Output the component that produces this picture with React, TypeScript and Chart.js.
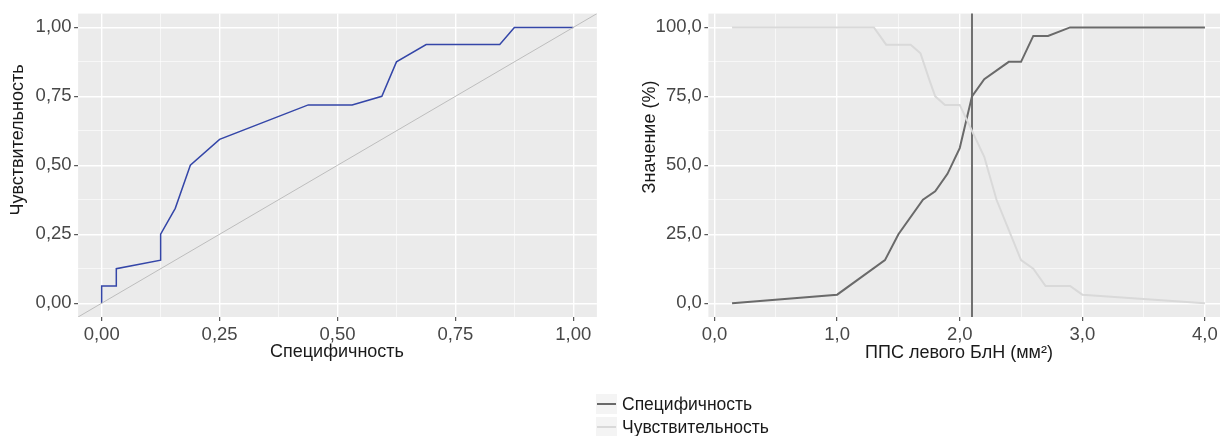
import React, { useEffect, useRef } from "react";
import { Chart, registerables } from "chart.js";

Chart.register(...registerables);

// ---------- data: ROC curve (left) ----------
const rocX = [0, 0, 0.031, 0.031, 0.125, 0.125, 0.156, 0.188, 0.25, 0.438, 0.531, 0.594, 0.625, 0.688, 0.844, 0.875, 1.0];
const rocY = [0, 0.0625, 0.0625, 0.125, 0.156, 0.25, 0.344, 0.5, 0.594, 0.719, 0.719, 0.75, 0.875, 0.938, 0.938, 1.0, 1.0];
const diagX = [-0.1, 1.1];
const rocMajorTicks = [0, 0.25, 0.5, 0.75, 1.0];
const rocMinorTicks = [0.125, 0.375, 0.625, 0.875];

// ---------- data: threshold plot (right) ----------
const specThresh = [0.143, 1.0, 1.39, 1.5, 1.7, 1.8, 1.9, 2.0, 2.1, 2.2, 2.4, 2.5, 2.6, 2.72, 2.9, 4.0];
const specValues = [0, 3.1, 15.6, 25.0, 37.5, 40.6, 46.9, 56.25, 75.0, 81.25, 87.5, 87.5, 96.9, 96.9, 100, 100];
const sensThresh = [0.143, 1.3, 1.4, 1.6, 1.68, 1.75, 1.8, 1.88, 2.0, 2.1, 2.2, 2.3, 2.5, 2.6, 2.7, 2.9, 3.0, 4.0];
const sensValues = [100, 100, 93.75, 93.75, 90.6, 81.25, 75.0, 71.9, 71.9, 62.5, 53.1, 37.5, 15.6, 12.5, 6.25, 6.25, 3.1, 0];
const cutoffX = [2.1, 2.1];
const cutoffY = [-10, 110];
const thrXMajor = [0, 1, 2, 3, 4];
const thrXMinor = [0.5, 1.5, 2.5, 3.5];
const thrYMajor = [0, 25, 50, 75, 100];
const thrYMinor = [12.5, 37.5, 62.5, 87.5];

const legendLabels = ["Специфичность", "Чувствительность"];

const FONT = "'Liberation Sans', Arial, Helvetica, sans-serif";
const TICK_FS = 18.5;
const TITLE_FS = 18;
const LEGEND_FS = 17.5;
const PANEL_BG = "#EBEBEB";
const SPEC_COLOR = "#6a6a6a";
const SENS_COLOR = "#d9d9d9";

const pts = (xs: number[], ys: number[]) => xs.map((x, i) => ({ x, y: ys[i] }));
const isIn = (arr: number[], v: any) => typeof v === "number" && arr.some((t) => Math.abs(t - v) < 1e-9);

function axis(o: {
  pos: "left" | "bottom";
  min: number;
  max: number;
  major: number[];
  minor: number[];
  digits: number;
  fit: number;
  pad: number;
}) {
  const all = [...o.major, ...o.minor].sort((a, b) => a - b);
  return {
    type: "linear",
    position: o.pos,
    min: o.min,
    max: o.max,
    afterBuildTicks: (s: any) => {
      s.ticks = all.map((v) => ({ value: v }));
    },
    afterFit: (s: any) => {
      if (o.pos === "left") s.width = o.fit;
      else s.height = o.fit;
    },
    ticks: {
      autoSkip: false,
      maxRotation: 0,
      minRotation: 0,
      padding: o.pad,
      color: "#474747",
      font: { family: FONT, size: TICK_FS },
      callback: (v: any) => (isIn(o.major, v) ? Number(v).toFixed(o.digits).replace(".", ",") : ""),
    },
    grid: {
      color: "#ffffff",
      lineWidth: (c: any) => (isIn(o.major, c.tick && c.tick.value) ? 1.4 : 0.6),
      tickColor: (c: any) => (isIn(o.major, c.tick && c.tick.value) ? "#333333" : "rgba(0,0,0,0)"),
      tickLength: 4,
      tickWidth: 1,
      drawTicks: true,
    },
    border: { display: false },
    title: { display: false },
  };
}

const panelBg = {
  id: "panelBg",
  beforeDraw(chart: any) {
    const { ctx, chartArea: a } = chart;
    ctx.save();
    ctx.fillStyle = PANEL_BG;
    ctx.fillRect(a.left, a.top, a.right - a.left, a.bottom - a.top);
    ctx.restore();
  },
};

const axisTitles = {
  id: "axisTitles",
  afterDraw(chart: any, _args: any, opts: any) {
    const ctx = chart.ctx;
    for (const t of opts.items || []) {
      ctx.save();
      ctx.translate(t.x, t.y);
      ctx.rotate(t.rot || 0);
      ctx.font = `${TITLE_FS}px ${FONT}`;
      ctx.fillStyle = "#1a1a1a";
      ctx.textAlign = "center";
      ctx.textBaseline = "middle";
      ctx.fillText(t.text, 0, 0);
      ctx.restore();
    }
  },
};

function useChart(ref: React.RefObject<HTMLCanvasElement>, make: () => any) {
  useEffect(() => {
    if (!ref.current) return;
    const chart = new Chart(ref.current, make());
    return () => chart.destroy();
  }, []);
}

export default function App() {
  const leftRef = useRef<HTMLCanvasElement>(null);
  const rightRef = useRef<HTMLCanvasElement>(null);

  useChart(leftRef, () => ({
    type: "line",
    data: {
      datasets: [
        {
          data: pts(diagX, diagX),
          borderColor: "#bdbdbd",
          borderWidth: 1,
          pointRadius: 0,
          clip: 0,
        },
        {
          data: pts(rocX, rocY),
          borderColor: "#3446a8",
          borderWidth: 1.5,
          pointRadius: 0,
          tension: 0,
          clip: 0,
        },
      ],
    },
    options: {
      responsive: false,
      maintainAspectRatio: false,
      animation: false,
      events: [],
      layout: { padding: { left: 0, top: 13.5, right: 13.1, bottom: 0 } },
      scales: {
        x: axis({ pos: "bottom", min: -0.05, max: 1.05, major: rocMajorTicks, minor: rocMinorTicks, digits: 2, fit: 119, pad: 3 }),
        y: axis({ pos: "left", min: -0.05, max: 1.05, major: rocMajorTicks, minor: rocMinorTicks, digits: 2, fit: 78.1, pad: 2.5 }),
      },
      plugins: {
        legend: { display: false },
        tooltip: { enabled: false },
        axisTitles: {
          items: [
            { text: "Специфичность", x: 337, y: 352 },
            { text: "Чувствительность", x: 18, y: 140, rot: -Math.PI / 2 },
          ],
        },
      },
    },
    plugins: [panelBg, axisTitles],
  }));

  useChart(rightRef, () => ({
    type: "line",
    data: {
      datasets: [
        {
          data: pts(sensThresh, sensValues),
          borderColor: SENS_COLOR,
          borderWidth: 2,
          pointRadius: 0,
          clip: 0,
        },
        {
          data: pts(specThresh, specValues),
          borderColor: SPEC_COLOR,
          borderWidth: 2,
          pointRadius: 0,
          clip: 0,
        },
        {
          data: pts(cutoffX, cutoffY),
          borderColor: "#707070",
          borderWidth: 2,
          pointRadius: 0,
          clip: 0,
        },
      ],
    },
    options: {
      responsive: false,
      maintainAspectRatio: false,
      animation: false,
      events: [],
      layout: { padding: { left: 0, top: 13.5, right: 11.4, bottom: 0 } },
      scales: {
        x: axis({ pos: "bottom", min: -0.05, max: 4.193, major: thrXMajor, minor: thrXMinor, digits: 1, fit: 119, pad: 3 }),
        y: axis({ pos: "left", min: -5, max: 105, major: thrYMajor, minor: thrYMinor, digits: 1, fit: 98.4, pad: 2.5 }),
      },
      plugins: {
        legend: { display: false },
        tooltip: { enabled: false },
        axisTitles: {
          items: [
            { text: "ППС левого БлН (мм²)", x: 349, y: 353 },
            { text: "Значение (%)", x: 40, y: 137, rot: -Math.PI / 2 },
          ],
        },
      },
    },
    plugins: [panelBg, axisTitles],
  }));

  const legendColors = [SPEC_COLOR, SENS_COLOR];
  const legendY = [404, 427];

  return (
    <div
      style={{
        position: "absolute",
        left: 0,
        top: 0,
        width: 1220,
        height: 436,
        overflow: "hidden",
        background: "#ffffff",
      }}
    >
      <canvas ref={leftRef} width={610} height={436} style={{ position: "absolute", left: 0, top: 0, width: 610, height: 436 }} />
      <canvas ref={rightRef} width={630} height={436} style={{ position: "absolute", left: 610, top: 0, width: 630, height: 436 }} />
      {legendLabels.map((lab, i) => (
        <React.Fragment key={lab}>
          <div
            style={{
              position: "absolute",
              left: 596,
              top: legendY[i] - 10,
              width: 21,
              height: 20,
              background: "#f4f4f4",
            }}
          />
          <div
            style={{
              position: "absolute",
              left: 597,
              top: legendY[i] - 1,
              width: 19,
              height: 2,
              background: legendColors[i],
            }}
          />
          <div
            style={{
              position: "absolute",
              left: 622,
              top: legendY[i] - 11,
              height: 22,
              lineHeight: "22px",
              fontFamily: FONT,
              fontSize: LEGEND_FS,
              color: "#1a1a1a",
              whiteSpace: "nowrap",
            }}
          >
            {lab}
          </div>
        </React.Fragment>
      ))}
    </div>
  );
}
